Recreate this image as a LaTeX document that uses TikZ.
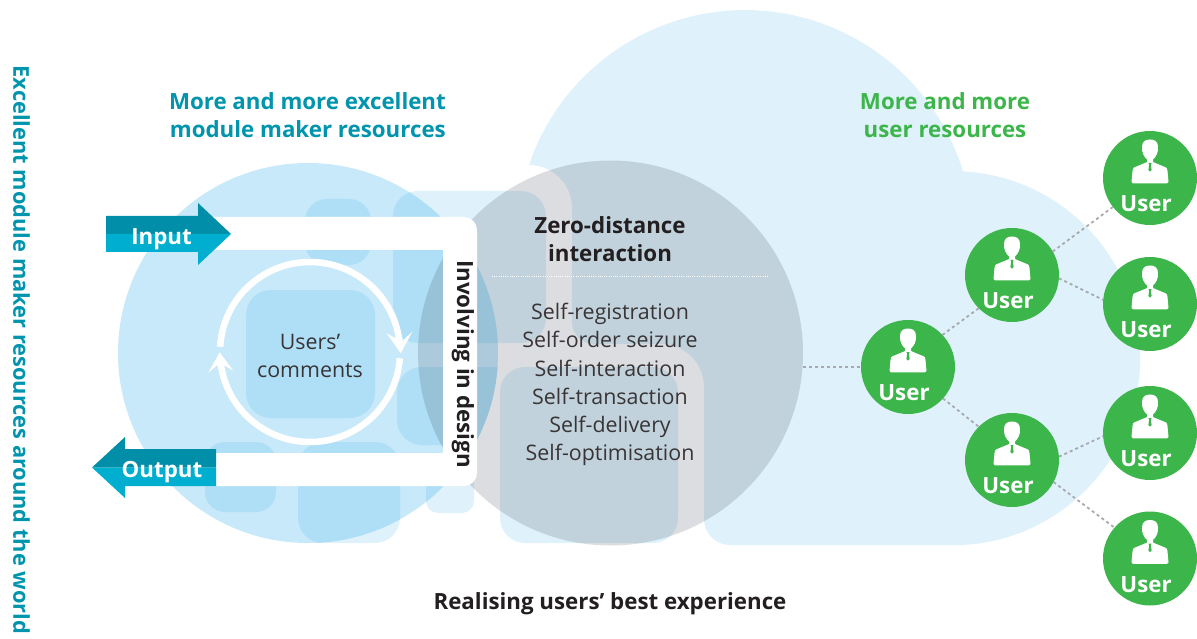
\documentclass[tikz,border=0pt]{standalone}
\usepackage{fontspec}
\setmainfont{Open Sans}
\usetikzlibrary{calc}
\definecolor{cloudc}{HTML}{DFF2FB}
\definecolor{circc}{HTML}{C7E9F9}
\definecolor{midc}{HTML}{AFDFF6}
\definecolor{tealt}{HTML}{0094AD}
\definecolor{arrowd}{HTML}{008EA8}
\definecolor{arrowl}{HTML}{00AECF}
\definecolor{greenu}{HTML}{3CB54A}
\definecolor{dotc}{HTML}{A7A9AC}
\definecolor{ink}{HTML}{231F20}
\definecolor{shade}{rgb}{0.087,0.113,0.187}
\newcommand{\panels}[1]{%
  \path[#1,rounded corners=25pt] (393,191) rectangle (546,343);
  \path[#1,rounded corners=25pt] (500,367) rectangle (678,543);
  \path[#1,rounded corners=22pt] (305,199) rectangle (371,265);
  \path[#1,rounded corners=25pt] (246,290) rectangle (375,418);
  \path[#1,rounded corners=20pt] (205,442) rectangle (276,512);
  \path[#1,rounded corners=25pt] (298,442) rectangle (400,543);
  \path[#1,rounded corners=12pt] (426,470) rectangle (474,513);
}
\newcommand{\usernode}[3]{%
  \node[usercirc] (#1) at (#2,#3) {};
  \begin{scope}[shift={(#2,#3)}]
    \fill[white] (-8,-31) .. controls (-8,-37) and (-4,-38.5) .. (0,-38.5)
      .. controls (4,-38.5) and (8,-37) .. (8,-31)
      .. controls (8.5,-26) and (6,-21) .. (3,-18.5) -- (3,-16) -- (4,-15.5)
      -- (16,-10.5) .. controls (17,-10) and (17,-9) .. (17.5,-7) -- (18.5,4)
      .. controls (18.5,5) and (18,5.3) .. (17,5.3) -- (-17,5.3)
      .. controls (-18,5.3) and (-18.5,5) .. (-18.5,4) -- (-17.5,-7)
      .. controls (-17,-9) and (-17,-10) .. (-16,-10.5) -- (-4,-15.5) -- (-3,-16)
      -- (-3,-18.5) .. controls (-6,-21) and (-8.5,-26) .. (-8,-31) -- cycle;
    \fill[greenu] (-1.5,-15) -- (1.5,-15) -- (0.9,-13) -- (1.6,-8) -- (0,-6.5) -- (-1.6,-8) -- (-0.9,-13) -- cycle;
  \end{scope}
  \node[userlabel] (#1t) at (#2-4,#3+26) {User};
}
\tikzset{
  usercirc/.style={circle,fill=greenu,minimum size=94pt,inner sep=0pt,outer sep=0pt},
  userlabel/.style={text=white,font=\fontsize{22.3}{24}\selectfont\bfseries,inner sep=0pt},
  link/.style={draw=dotc,line width=1.8pt,dash pattern=on 3pt off 3pt},
  head/.style={font=\fontsize{22.3}{28.3}\selectfont\bfseries,inner sep=0pt,align=center},
  sidehead/.style={font=\fontsize{21.8}{28.3}\selectfont\bfseries,inner sep=0pt,align=center},
  body/.style={font=\fontsize{21.4}{28.2}\selectfont,inner sep=0pt,align=center,text=ink!90},
  ring/.style={draw=white,line width=6.5pt},
}
\begin{document}
\begin{tikzpicture}[x=1pt,y=-1pt]
\useasboundingbox (0,0) rectangle (1197,639);
% cloud
\fill[cloudc] (529,165) arc[start angle=161.3,end angle=17,radius=228pt]
  arc[start angle=87,end angle=-90,radius=187pt]
  -- (730,545) arc[start angle=270,end angle=180,radius=26pt]
  -- (704,387) arc[start angle=0,end angle=90,radius=43pt]
  -- (594,344) arc[start angle=270,end angle=180,radius=22pt]
  -- (572,208) arc[start angle=0,end angle=90,radius=43pt] -- cycle;
\panels{fill=cloudc}
\node[circle,fill=circc,minimum size=380pt,inner sep=0pt] (left) at (308,353) {};
\begin{scope}
  \clip (308,353) circle[radius=190pt];
  \panels{fill=midc}
  \path[fill=midc,rounded corners=25pt] (397,367) rectangle (540,445);
\end{scope}
\node[circle,fill=shade,fill opacity=.15,minimum size=385pt,inner sep=0pt] (zero) at (610.5,353) {};
% white frame
\fill[white] (200,217) -- (464,217) arc[start angle=90,end angle=0,radius=13pt]
  -- (477,473) arc[start angle=0,end angle=-90,radius=13pt]
  -- (200,486) -- (200,453) -- (443,453) -- (443,250) -- (200,250) -- cycle;
% input arrow
\fill[arrowd] (106,216) -- (198,216) -- (198,203) -- (231,234) -- (106,234) -- cycle;
\fill[arrowl] (106,234) -- (231,234) -- (198,265) -- (198,252) -- (106,252) -- cycle;
% output arrow
\fill[arrowd] (216,449) -- (125,449) -- (125,437) -- (92,467.5) -- (216,467.5) -- cycle;
\fill[arrowl] (216,467.5) -- (92,467.5) -- (125,498) -- (125,486) -- (216,486) -- cycle;
\node[head,text=white] (input) at (161.5,239) {Input};
\node[head,text=white] (output) at (162,472) {Output};
% ring
\coordinate (ringc) at (310,352);
\draw[ring] (ringc) ++(176.7:90pt) arc[start angle=176.7,end angle=6,radius=90pt];
\draw[ring] (ringc) ++(-4:90pt) arc[start angle=-4,end angle=-174,radius=90pt];
\fill[white] (400.7,353.3) -- (386.7,333.3) -- (401.7,341.7) -- (412.3,331.7) -- cycle;
\fill[white] (219.7,352.3) -- (208.3,372.7) -- (220,363) -- (233.3,370.7) -- cycle;
% texts
\node[body] (comments) at (310,356) {Users’\\comments};
\node[head,rotate=-90,text=ink] (involve) at (463,364) {Involving in design};
\node[head,text=tealt,align=right,anchor=east] (more1) at (446,115) {More and more excellent\\module maker resources};
\node[head,text=greenu] (more2) at (945,115) {More and more\\user resources};
\node[sidehead,text=tealt,rotate=-90] (side) at (21.5,350) {Excellent module maker resources around the world};
\node[head,text=ink] (zd) at (610,239) {Zero-distance\\interaction};
\coordinate (dl) at (492,276);
\coordinate (dr) at (768,276);
\draw[white,line width=1pt,dash pattern=on 1pt off 1.2pt] (dl) -- (dr);
\node[body] (list) at (610,384.5) {Self-registration\\Self-order seizure\\Self-interaction\\Self-transaction\\Self-delivery\\Self-optimisation};
\node[head,text=ink] (best) at (610,604) {Realising users’ best experience};
% users
\usernode{ua}{908}{367}
\usernode{ub}{1012}{275}
\usernode{uc}{1012}{460}
\usernode{ud}{1150}{178}
\usernode{ue}{1150}{304}
\usernode{uf}{1150}{433}
\usernode{ug}{1150}{558.5}
\draw[link] (zero.east |- ua) -- (ua.west);
\draw[link] (ua.43) -- (ub.225);
\draw[link] (ua.-42) -- (uc.135);
\draw[link] (ub.30) -- (ud.218);
\draw[link] (ub.-4) -- (ue.175);
\draw[link] (uc.4) -- (uf.184);
\draw[link] (uc.-28) -- (ug.139);
\end{tikzpicture}
\end{document}
